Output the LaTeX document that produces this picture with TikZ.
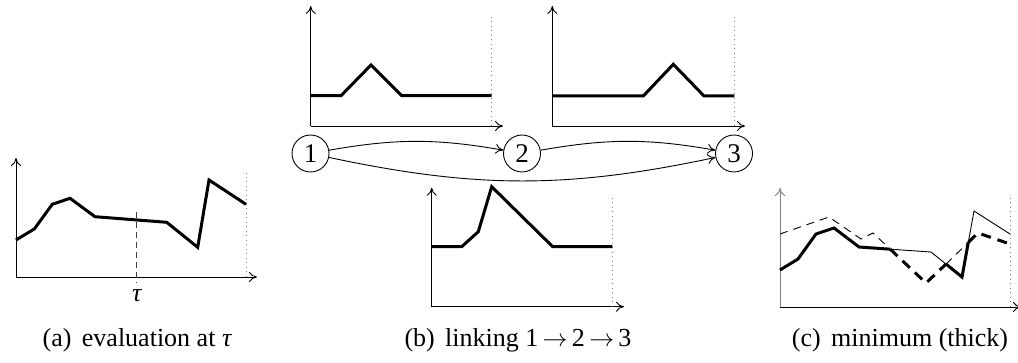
\documentclass[tikz,border=0pt]{standalone}
\usepackage{fontspec}
\setmainfont{Liberation Serif}
\usetikzlibrary{arrows.meta}
\begin{document}
\begin{tikzpicture}[x=1pt,y=-1pt,
  ax/.style={line width=0.9pt,-{To[length=8pt,width=10pt]}},
  fn/.style={line width=3pt,line join=miter},
  thinfn/.style={line width=0.9pt},
  dotv/.style={gray,line width=0.9pt,dash pattern=on 1pt off 3.5pt},
  taumark/.style={black!75,line width=1pt,dash pattern=on 6pt off 4pt},
  thindash/.style={line width=0.9pt,dash pattern=on 8pt off 6pt},
  thickdash/.style={line width=3pt,dash pattern=on 10pt off 7pt},
  state/.style={circle,draw,line width=0.9pt,minimum size=37pt,inner sep=0pt,font=\fontsize{27}{30}\selectfont},
  link/.style={line width=0.9pt,-{To[length=8pt,width=10pt]}},
  captext/.style={font=\fontsize{26}{30}\selectfont,anchor=base}
]
\useasboundingbox (0,0) rectangle (1018,363);

% ---------- panel (a)
\coordinate (aO) at (16,277);
\coordinate (aY) at (16,158);
\coordinate (aX) at (257,277);
\draw[ax] (aO) -- (aY);
\draw[ax] (aO) -- (aX);
\draw[dotv] (246,277) -- (246,173);
\draw[taumark] (136.7,211.7) -- (136.7,283);
\draw[fn] (16,240) -- (34.3,229) -- (52.3,204.3) -- (70,198.3) -- (95,216.7)
  -- (166.7,222.3) -- (197.7,247.3) -- (209,180) -- (246,204.3);
\node[captext] (tau) at (136.7,302) {\itshape τ};
\node[captext] (capa) at (137,347) {(a)\hspace{0.4em}evaluation at \itshape τ};

% ---------- top-left chart
\coordinate (tlO) at (310.7,126);
\coordinate (tlY) at (310.7,6);
\coordinate (tlX) at (503,126);
\draw[ax] (tlO) -- (tlY);
\draw[ax] (tlO) -- (tlX);
\draw[dotv] (491.7,126) -- (491.7,16.7);
\draw[fn] (310.7,95.7) -- (341,95.7) -- (371,65) -- (401.7,95.7) -- (491.7,95.7);

% ---------- top-right chart
\coordinate (trO) at (552.3,126);
\coordinate (trY) at (552.3,6);
\coordinate (trX) at (745,126);
\draw[ax] (trO) -- (trY);
\draw[ax] (trO) -- (trX);
\draw[dotv] (734.3,126) -- (734.3,16.7);
\draw[fn] (552.3,96) -- (643.3,96) -- (673.3,64.3) -- (704,96) -- (734.3,96);

% ---------- bottom chart
\coordinate (bO) at (431.7,306.7);
\coordinate (bY) at (431.7,187.7);
\coordinate (bX) at (624,306.7);
\draw[ax] (bO) -- (bY);
\draw[ax] (bO) -- (bX);
\draw[dotv] (612.3,306.7) -- (612.3,198.3);
\draw[fn] (431.7,246.7) -- (461.7,246.7) -- (478.3,231.7) -- (491.7,186.7)
  -- (552.7,246.7) -- (612.3,246.7);

% ---------- states and links
\node[state] (n1) at (310.5,153.5) {1};
\node[state] (n2) at (522,153.5) {2};
\node[state] (n3) at (734,153.5) {3};
\draw[link] (n1) to[bend left=10] (n2);
\draw[link] (n2) to[bend left=10] (n3);
\draw[link] (n1) to[bend right=12] (n3);
\node[captext] (capb) at (518,347) {(b)\hspace{0.4em}linking 1\,$\rightarrow$\,2\,$\rightarrow$\,3};

% ---------- panel (c)
\coordinate (cO) at (780,307);
\coordinate (cY) at (780,188);
\coordinate (cX) at (1021,307);
\draw[ax,gray] (cO) -- (cY);
\draw[ax] (cO) -- (cX);
\draw[dotv] (1010,307) -- (1010,198);
% maximum parts (thin)
\draw[thindash] (780,234) -- (829,217) -- (861,239) -- (873,233) -- (890.2,249.2);
\draw[thinfn] (890.2,249.2) -- (931,252) -- (946,264.1);
\draw[thindash] (946,264.1) -- (968.3,242.3);
\draw[thinfn] (968.3,242.3) -- (974,211) -- (1010,234);
% minimum (thick)
\draw[fn] (780,270) -- (798,259) -- (816,234) -- (834,228) -- (859,247) -- (890.2,249.2);
\draw[thickdash] (890.2,249.2) -- (926,283) -- (946,264.1);
\draw[fn] (946,264.1) -- (962,277) -- (968.3,242.3);
\draw[thickdash] (968.3,242.3) -- (978,233) -- (1010,244);
\node[captext] (capc) at (900,347) {(c)\hspace{0.4em}minimum (thick)};
\end{tikzpicture}
\end{document}
